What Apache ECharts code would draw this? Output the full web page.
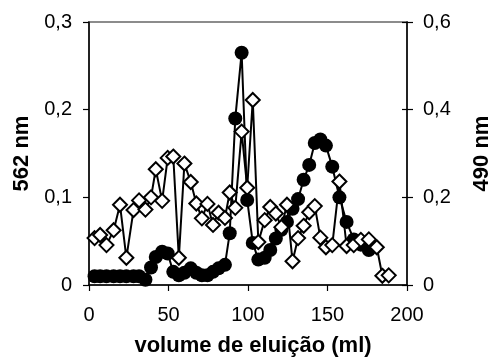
<!DOCTYPE html>
<html>
<head>
<meta charset="utf-8">
<script src="https://cdn.jsdelivr.net/npm/echarts@6/dist/echarts.min.js"></script>
<style>
  html, body { margin: 0; padding: 0; background: #fff; }
  #chart { width: 501px; height: 362px; }
</style>
</head>
<body>
<div id="chart"></div>
<script>
// Elution volume of each collected fraction (ml)
const volume = [3.5, 7, 11, 15.5, 19.5, 23.5, 28, 31.5, 35.5, 39,
  42, 46, 49.5, 53, 56.5, 60, 64, 67.5, 71, 74.5,
  78, 81.5, 85.5, 88.5, 92, 96, 99.5, 103, 106.5, 110.5,
  114, 117.5, 121, 124.5, 128, 131.5, 135, 138.5, 142, 145.5,
  149, 153, 157.5, 162, 166.5, 171, 176, 181, 184.5, 188.5];

// Absorbance at 562 nm (left axis), fractions 1..47
const abs562 = [0.01, 0.01, 0.01, 0.01, 0.01, 0.01, 0.01, 0.01, 0.006, 0.02,
  0.032, 0.038, 0.036, 0.015, 0.011, 0.014, 0.019, 0.014, 0.011, 0.011,
  0.015, 0.019, 0.023, 0.059, 0.19, 0.265, 0.097, 0.048, 0.029, 0.031,
  0.04, 0.053, 0.063, 0.072, 0.087, 0.098, 0.12, 0.137, 0.162, 0.166,
  0.159, 0.135, 0.1, 0.072, 0.052, 0.046, 0.04];

// Absorbance at 490 nm (right axis), fractions 1..50
const abs490 = [0.107, 0.114, 0.091, 0.125, 0.183, 0.062, 0.171, 0.193, 0.172, 0.2,
  0.264, 0.192, 0.29, 0.293, 0.062, 0.277, 0.235, 0.186, 0.152, 0.185,
  0.137, 0.165, 0.153, 0.211, 0.176, 0.35, 0.222, 0.422, 0.098, 0.148,
  0.178, 0.163, 0.132, 0.183, 0.054, 0.107, 0.135, 0.166, 0.18, 0.108,
  0.086, 0.091, 0.236, 0.089, 0.091, 0.103, 0.104, 0.086, 0.021, 0.022];

const FONT = 'Liberation Sans, Arial, sans-serif';
const comma = v => (v === 0 ? '0' : String(+v.toFixed(2)).replace('.', ','));

const chart = echarts.init(document.getElementById('chart'), null, { renderer: 'canvas' });

chart.setOption({
  animation: false,
  backgroundColor: '#fff',
  grid: {
    left: 89, right: 76, top: 22, bottom: 77,
    show: true, borderColor: '#8c8c8c', borderWidth: 2, backgroundColor: 'transparent'
  },
  xAxis: {
    type: 'value', min: 0, max: 200, interval: 50,
    name: 'volume de eluição (ml)', nameLocation: 'middle', nameGap: 50,
    nameTextStyle: { fontFamily: FONT, fontSize: 22, fontWeight: 'bold', color: '#000', padding: [0, 0, 0, 10] },
    axisLine: { show: true, lineStyle: { color: '#000', width: 1.5 } },
    axisTick: { show: true, inside: false, length: 6, lineStyle: { color: '#000', width: 1.2 } },
    axisLabel: { margin: 20, fontFamily: FONT, fontSize: 20, color: '#000' },
    splitLine: { show: false }
  },
  yAxis: [
    {
      type: 'value', position: 'left', min: 0, max: 0.3, interval: 0.1,
      name: '562 nm', nameLocation: 'middle', nameGap: 56, nameRotate: 90,
      nameTextStyle: { fontFamily: FONT, fontSize: 22, fontWeight: 'bold', color: '#000' },
      axisLine: { show: true, lineStyle: { color: '#000', width: 1.5 } },
      axisTick: { show: true, inside: false, length: 6, lineStyle: { color: '#000', width: 1.2 } },
      axisLabel: { margin: 17, fontFamily: FONT, fontSize: 20, color: '#000', formatter: comma },
      splitLine: { show: false }
    },
    {
      type: 'value', position: 'right', min: 0, max: 0.6, interval: 0.2,
      name: '490 nm', nameLocation: 'middle', nameGap: 64, nameRotate: 90,
      nameTextStyle: { fontFamily: FONT, fontSize: 22, fontWeight: 'bold', color: '#000' },
      axisLine: { show: true, lineStyle: { color: '#000', width: 1.5 } },
      axisTick: { show: true, inside: false, length: 6, lineStyle: { color: '#000', width: 1.2 } },
      axisLabel: { margin: 16, fontFamily: FONT, fontSize: 20, color: '#000', formatter: comma },
      splitLine: { show: false }
    },
    {
      // inner half of the crossing ticks on the right axis
      type: 'value', position: 'right', min: 0, max: 0.6, interval: 0.2,
      axisLine: { show: false },
      axisTick: { show: true, inside: true, length: 5, lineStyle: { color: '#000', width: 1.2 } },
      axisLabel: { show: false },
      splitLine: { show: false }
    }
  ],
  series: [
    {
      name: '562 nm', type: 'line', yAxisIndex: 0,
      data: abs562.map((v, i) => [volume[i], v]),
      symbol: 'circle', symbolSize: 14,
      lineStyle: { color: '#000', width: 2 },
      itemStyle: { color: '#000', borderColor: '#000', borderWidth: 0 },
      z: 2
    },
    {
      name: '490 nm', type: 'line', yAxisIndex: 1,
      data: abs490.map((v, i) => [volume[i], v]),
      symbol: 'diamond', symbolSize: 14,
      lineStyle: { color: '#000', width: 2 },
      itemStyle: { color: '#fff', borderColor: '#000', borderWidth: 2 },
      z: 3
    }
  ]
});
</script>
</body>
</html>
